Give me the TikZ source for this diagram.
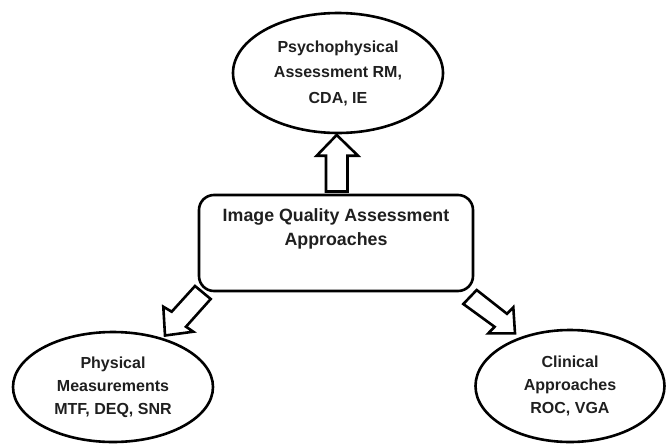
\documentclass[tikz,border=0pt]{standalone}
\usepackage{fontspec}
\setmainfont{Liberation Sans}
\usetikzlibrary{shapes.geometric}
\tikzset{
  line/.style={draw=black, line width=2.6pt},
  ell/.style={line, ellipse, inner sep=0pt, align=center,
     font=\fontsize{16}{23}\selectfont\bfseries, text=black!88},
  boxstyle/.style={line, rounded corners=15pt, inner sep=0pt,
     minimum width=274pt, minimum height=96pt},
  boxtext/.style={align=center, inner sep=0pt,
     font=\fontsize{17.8}{24}\selectfont\bfseries, text=black!88},
  blockarrow/.style={line, line join=miter, fill=white}
}
\begin{document}
\begin{tikzpicture}[x=1pt, y=-1pt]
\useasboundingbox (0,0) rectangle (667,445);
% nodes
\node[ell, minimum width=210pt, minimum height=120pt,
  font=\fontsize{16}{25.5}\selectfont\bfseries] (psy) at (338,73)
  {Psychophysical\\Assessment RM,\\CDA, IE};
\node[ell, minimum width=200pt, minimum height=110pt] (phys) at (113,387)
  {Physical\\Measurements\\MTF, DEQ, SNR};
\node[ell, minimum width=189pt, minimum height=112pt] (clin) at (570,386)
  {Clinical\\Approaches\\ROC, VGA};
\node[boxstyle] (box) at (336,243) {};
\node[boxtext] (boxlabel) at (336,229) {Image Quality Assessment\\Approaches};
% block arrows
\draw[blockarrow] (326,191.5) -- (326,155.7) -- (316.7,155.7) -- (336.7,135)
  -- (358,155.7) -- (347.5,155.7) -- (347.5,191.5) -- cycle;
\draw[blockarrow] (195,286) -- (171.7,311.7) -- (163.3,306.7) -- (165,335.5)
  -- (193.3,331.7) -- (186,326.7) -- (210.7,299) -- cycle;
\draw[blockarrow] (476.7,290) -- (507,313.8) -- (513.3,307.3) -- (515,333.3)
  -- (488.3,333.3) -- (494.6,326.8) -- (463.3,304) -- cycle;
\end{tikzpicture}
\end{document}
